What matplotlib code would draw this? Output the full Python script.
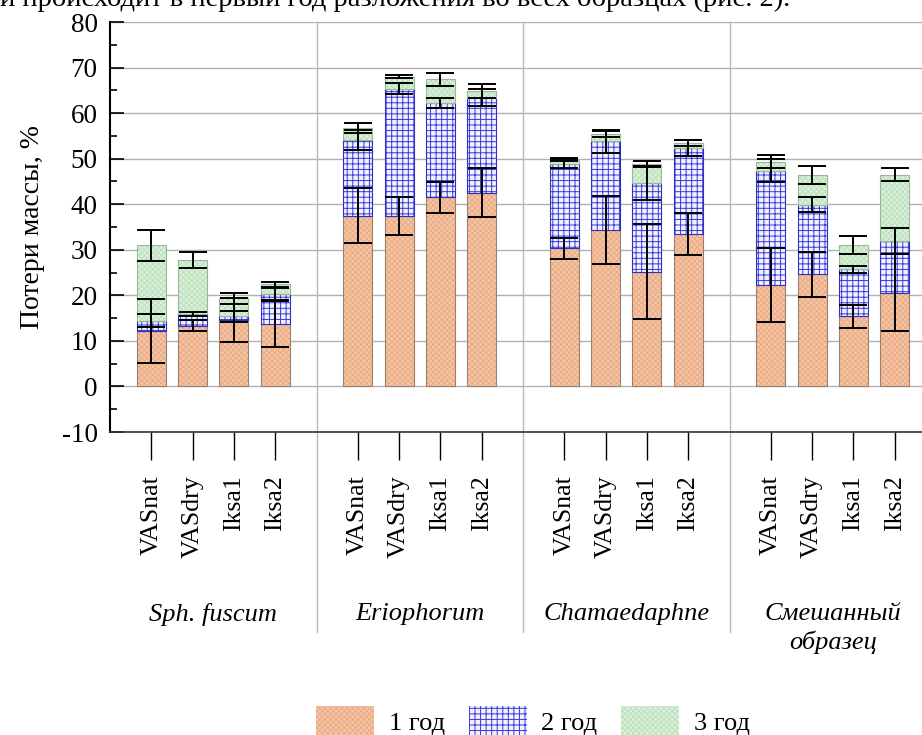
import matplotlib
matplotlib.use('Agg')
import matplotlib.pyplot as plt
from matplotlib.patches import Patch
from matplotlib.ticker import MultipleLocator

# Cumulative mass loss (%) after the 1st, 2nd and 3rd year, with errors
groups = ['Sph. fuscum', 'Eriophorum', 'Chamaedaphne', 'Смешанный\nобразец']
samples = ['VASnat', 'VASdry', 'Iksa1', 'Iksa2']

loss_y1 = [12.1, 13.3, 14.6, 13.7, 37.5, 37.4, 41.5, 42.5,
           30.3, 34.3, 25.2, 33.5, 22.2, 24.6, 15.4, 20.6]
loss_y2 = [14.4, 15.9, 15.4, 20.3, 54.1, 65.4, 62.3, 63.4,
           48.9, 53.8, 44.7, 52.3, 47.4, 39.9, 25.7, 31.9]
loss_y3 = [31.0, 27.7, 19.4, 22.4, 56.7, 68.0, 67.4, 64.9,
           49.8, 55.4, 48.8, 53.4, 49.3, 46.5, 31.0, 46.5]
err_y1 = [7.0, 1.2, 4.9, 5.0, 6.1, 4.2, 3.4, 5.4,
          2.3, 7.5, 10.5, 4.6, 8.1, 4.9, 2.5, 8.5]
err_y2 = [1.4, 0.5, 1.2, 1.3, 2.1, 1.3, 1.1, 1.8,
          0.9, 2.6, 3.7, 1.7, 2.6, 1.6, 0.7, 2.9]
err_y3 = [3.4, 1.8, 1.2, 0.6, 1.1, 0.3, 1.5, 1.5,
          0.4, 0.6, 0.7, 0.7, 1.4, 2.0, 2.0, 1.5]
year_labels = ['1 год', '2 год', '3 год']

plt.rcParams['font.family'] = ['Liberation Serif', 'DejaVu Serif']
plt.rcParams['hatch.linewidth'] = 0.7
plt.rcParams['axes.unicode_minus'] = False

fig = plt.figure(figsize=(9.22, 7.35), dpi=100)
ax = fig.add_axes([110 / 922, 1 - 432 / 735, 826 / 922, 410 / 735])

x = [g * 5 + i + 1 for g in range(len(groups)) for i in range(len(samples))]
w = 0.7

# fill, hatch colour, hatch, outline
styles = [
    ('#f6c5a3', '#e8ab85', 'xxxxxx', '#9a8070'),
    ('#f0f0ff', '#3a3ad8', '+++', '#3030c0'),
    ('#d8f1d8', '#bde0bd', 'xxxxxx', '#98b898'),
]

tops = [loss_y1, loss_y2, loss_y3]
bottoms = [[0] * len(x), loss_y1, loss_y2]
for (face, hcol, hatch, edge), top, bot in zip(styles, tops, bottoms):
    heights = [t - b for t, b in zip(top, bot)]
    ax.bar(x, heights, w, bottom=bot, color=face, edgecolor=hcol,
           hatch=hatch, linewidth=0, zorder=2)
    ax.bar(x, heights, w, bottom=bot, fill=False, edgecolor=edge,
           linewidth=0.8, zorder=2)

for top, err in zip(tops, [err_y1, err_y2, err_y3]):
    ax.errorbar(x, top, yerr=err, fmt='none', ecolor='black',
                elinewidth=1.4, capsize=10, capthick=1.4, zorder=3)

ax.set_xlim(0, 20)
ax.set_ylim(-10, 80)
ax.yaxis.set_major_locator(MultipleLocator(10))
ax.yaxis.set_minor_locator(MultipleLocator(5))
ax.tick_params(axis='y', which='major', direction='in', length=10,
               width=1.2, pad=9, labelsize=19.5)
ax.tick_params(axis='y', which='minor', direction='in', length=5, width=1.2)
ax.set_xticks(x)
ax.set_xticklabels(samples * len(groups), rotation=90, va='top')
ax.tick_params(axis='x', direction='out', length=20, width=1.0,
               pad=11, labelsize=18.5)

ax.grid(axis='y', color='#b0b0b0', linewidth=1.0)
ax.set_axisbelow(True)
for s in ['top', 'right']:
    ax.spines[s].set_visible(False)
ax.spines['left'].set_linewidth(1.5)
ax.spines['bottom'].set_linewidth(1.2)
ax.spines['bottom'].set_color('#333333')

# group separators running down through the label area
for g in range(1, len(groups)):
    ax.axvline(g * 5, ymin=-0.488, ymax=1, color='#b8b8b8', linewidth=1.0,
               clip_on=False, zorder=1)

for g, name in enumerate(groups):
    ax.text(g * 5 + 2.5, -0.418, name, transform=ax.get_xaxis_transform(),
            ha='center', va='top', style='italic', fontsize=19,
            linespacing=1.25)

ax.set_ylabel('Потери массы, %', fontsize=20, labelpad=12)

handles = [Patch(facecolor=f, edgecolor=h, hatch=ht, linewidth=0)
           for f, h, ht, e in styles]
fig.legend(handles, year_labels, loc='upper center', ncol=3,
           bbox_to_anchor=(0.578, 1 - 706 / 735), frameon=False,
           fontsize=19, handlelength=2.2, handleheight=1.35,
           handletextpad=0.55, columnspacing=0.9, borderpad=0,
           borderaxespad=0)

fig.text(0.0, 1 - 6 / 735,
         'и происходит в первый год разложения во всех образцах (рис. 2).',
         fontsize=20.5, va='baseline', ha='left')

fig.savefig('out.png', dpi=100)
